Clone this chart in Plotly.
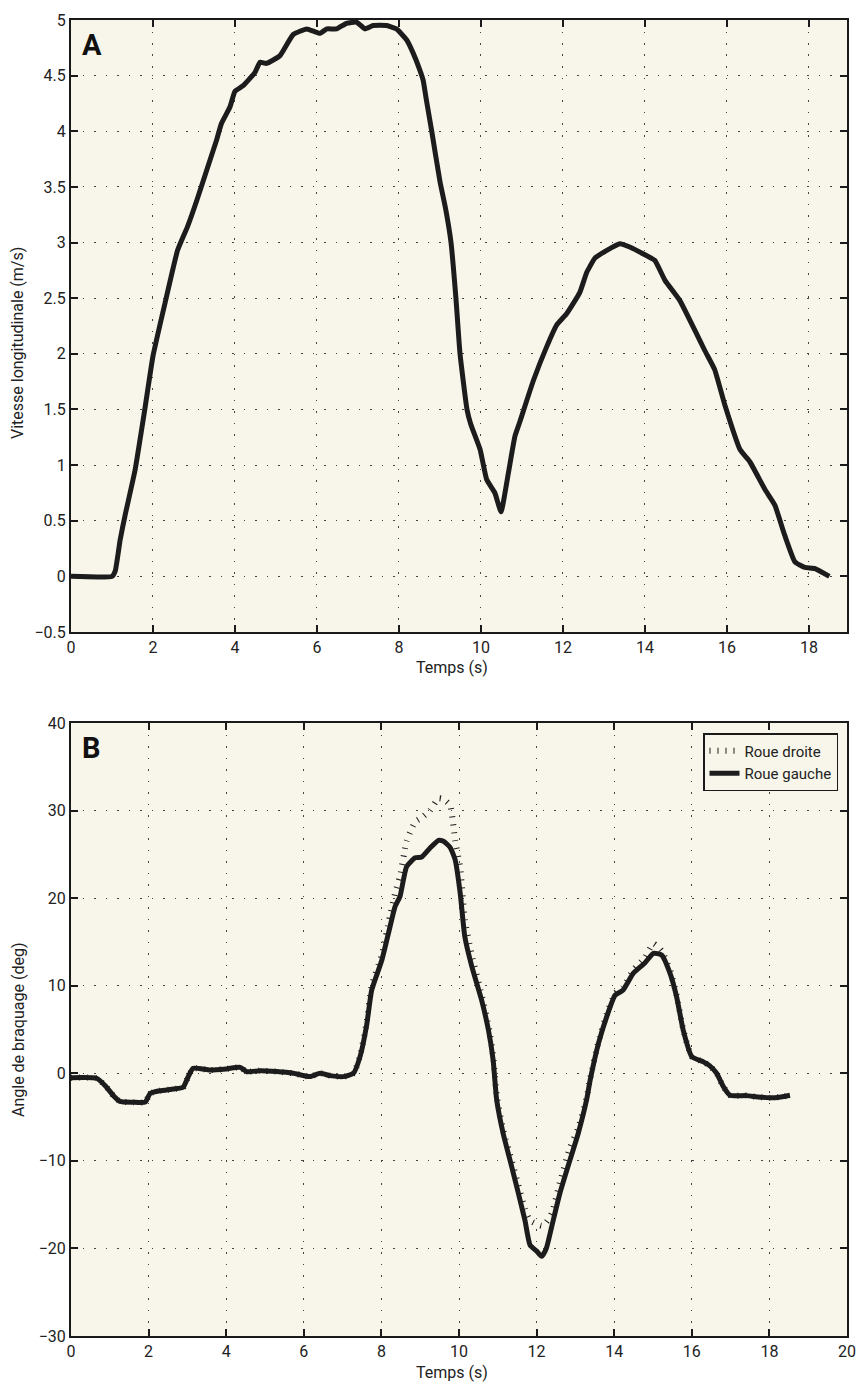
import plotly.graph_objects as go

# ---------------- Panel A data ----------------
t_a = [0, 1.0, 1.08, 1.2, 1.32, 1.56, 1.8, 2.0, 2.29, 2.6, 2.85, 3.07, 3.31, 3.55, 3.67, 3.88, 4.0,
       4.2, 4.49, 4.61, 4.77, 5.1, 5.42, 5.75, 6.07, 6.24, 6.48, 6.72, 6.97, 7.17, 7.37, 7.7,
       7.94, 8.19, 8.35, 8.51, 8.59, 8.67, 8.8, 9.0, 9.14, 9.27, 9.39, 9.49, 9.66, 9.75, 9.98, 10.14, 10.34,
       10.49, 10.67, 10.83, 10.95, 11.28, 11.6, 11.85, 12.09, 12.41, 12.58, 12.78, 13.07, 13.39,
       13.63, 14.0, 14.24, 14.49, 14.85, 15.22, 15.46, 15.7, 15.95, 16.32, 16.56, 16.93, 17.17,
       17.41, 17.66, 17.9, 18.15, 18.5]
v_a = [0, 0, 0.05, 0.33, 0.55, 0.95, 1.5, 1.98, 2.45, 2.93, 3.15, 3.38, 3.65, 3.92, 4.07, 4.22, 4.36,
       4.41, 4.53, 4.62, 4.61, 4.68, 4.87, 4.92, 4.88, 4.92, 4.92, 4.97, 4.98, 4.92, 4.95, 4.95,
       4.92, 4.82, 4.7, 4.55, 4.46, 4.28, 4.0, 3.55, 3.3, 3.0, 2.5, 2.0, 1.5, 1.37, 1.14, 0.87, 0.75,
       0.58, 0.93, 1.26, 1.39, 1.76, 2.06, 2.26, 2.36, 2.55, 2.73, 2.86, 2.93, 2.99,
       2.96, 2.89, 2.84, 2.66, 2.48, 2.21, 2.03, 1.86, 1.54, 1.14, 1.03, 0.78, 0.64,
       0.37, 0.13, 0.08, 0.07, 0.0]

# ---------------- Panel B data ----------------
t_b = [0, 0.66, 0.9, 1.1, 1.26, 1.6, 1.91, 2.04, 2.29, 2.64, 2.89, 3.02, 3.15, 3.58, 4.0, 4.36, 4.53,
       4.87, 5.3, 5.73, 6.16, 6.42, 6.68, 7.02, 7.28, 7.45, 7.62, 7.75, 8.01, 8.22, 8.35, 8.48,
       8.65, 8.87, 9.04, 9.25, 9.47, 9.6, 9.77, 9.9, 10.03, 10.15, 10.33, 10.58, 10.76, 10.88,
       10.97, 11.14, 11.36, 11.53, 11.7, 11.83, 12.0, 12.13, 12.25, 12.39, 12.6, 12.86, 13.07,
       13.29, 13.38, 13.6, 13.81, 14.02, 14.23, 14.49, 14.79, 15.01, 15.22, 15.44, 15.61, 15.78,
       16.0, 16.3, 16.45, 16.64, 16.81, 16.98, 17.41, 17.7, 18.01, 18.3, 18.53]
left_b = [-0.5, -0.57, -1.5, -2.6, -3.2, -3.3, -3.3, -2.3, -2.0, -1.8, -1.6, -0.4, 0.57, 0.38, 0.5,
          0.68, 0.18, 0.3, 0.2, 0.0, -0.38, 0.0, -0.27, -0.38, 0.0, 1.9, 5.5, 9.5, 12.9, 16.7, 19.0,
          20.2, 23.6, 24.6, 24.7, 25.7, 26.6, 26.5, 25.8, 24.4, 20.6, 15.6, 12.2, 8.4, 4.9, 1.5,
          -3.0, -6.9, -10.7, -13.7, -16.8, -19.6, -20.3, -20.9, -20.0, -17.5, -13.7, -9.9, -6.9,
          -3.0, -0.8, 3.5, 6.5, 8.9, 9.5, 11.4, 12.6, 13.7, 13.5, 11.4, 8.7, 4.9,
          1.9, 1.3, 0.9, 0.0, -1.5, -2.5, -2.55, -2.7, -2.8, -2.7, -2.5]
right_b = [-0.5, -0.57, -1.5, -2.6, -3.2, -3.3, -3.3, -2.3, -2.0, -1.8, -1.6, -0.4, 0.57, 0.38, 0.5,
           0.68, 0.18, 0.3, 0.2, 0.0, -0.38, 0.0, -0.27, -0.38, 0.0, 2.0, 5.8, 10.0, 13.5, 17.9, 20.5,
           22.5, 26.5, 28.7, 29.2, 30.0, 31.4, 31.3, 30.6, 26.6, 23.5, 17.5, 13.5, 9.0, 5.5, 2.0,
           -2.5, -6.5, -10.0, -12.8, -15.5, -16.8, -17.2, -17.4, -17.0, -16.0, -12.5, -8.5, -6.3,
           -2.8, -0.6, 3.7, 6.8, 9.1, 9.8, 11.8, 13.2, 14.8, 14.0, 11.8, 8.9, 5.0,
           1.9, 1.3, 0.9, 0.0, -1.5, -2.5, -2.55, -2.7, -2.8, -2.7, -2.5]

xticks_a = [0, 2, 4, 6, 8, 10, 12, 14, 16, 18]
yticks_a = [-0.5, 0, 0.5, 1, 1.5, 2, 2.5, 3, 3.5, 4, 4.5, 5]
ytext_a = ["\u22120.5", "0", "0.5", "1", "1.5", "2", "2.5", "3", "3.5", "4", "4.5", "5"]
xticks_b = [0, 2, 4, 6, 8, 10, 12, 14, 16, 18, 20]
yticks_b = [-30, -20, -10, 0, 10, 20, 30, 40]
ytext_b = ["\u221230", "\u221220", "\u221210", "0", "10", "20", "30", "40"]

W, H = 857, 1383
FONT = "Roboto, sans-serif"
LINE = "#1c1c1c"
BG = "#f8f6ea"
TXT = "#222222"

fig = go.Figure()
fig.add_trace(go.Scatter(x=t_a, y=v_a, mode="lines", showlegend=False,
                         line=dict(color=LINE, width=5, shape="spline", smoothing=0.4),
                         xaxis="x", yaxis="y"))
fig.add_trace(go.Scatter(x=t_b, y=right_b, mode="lines", name="Roue droite",
                         line=dict(color=LINE, width=6, dash="1px,7px", shape="spline", smoothing=0.5),
                         xaxis="x2", yaxis="y2"))
fig.add_trace(go.Scatter(x=t_b, y=left_b, mode="lines", name="Roue gauche",
                         line=dict(color=LINE, width=5, shape="spline", smoothing=0.5),
                         xaxis="x2", yaxis="y2"))

xdom = [71 / W, 847 / W]
ydom_a = [1 - 632 / H, 1 - 20 / H]
ydom_b = [1 - 1336 / H, 1 - 723 / H]

common = dict(showline=True, linecolor="#1a1a1a", linewidth=2, mirror="ticks",
              ticks="inside", ticklen=7, tickwidth=1.5, tickcolor="#1a1a1a",
              showgrid=True, gridcolor="#444444", gridwidth=1, griddash="1.5px,10px",
              zeroline=False, automargin=False,
              tickfont=dict(family=FONT, size=16, color=TXT))

fig.update_layout(
    width=W, height=H, margin=dict(l=0, r=0, t=0, b=0, autoexpand=False),
    paper_bgcolor="white", plot_bgcolor=BG,
    xaxis=dict(domain=xdom, anchor="y", range=[0, 18.93], tickvals=xticks_a, **common),
    yaxis=dict(domain=ydom_a, anchor="x", range=[-0.5, 5], tickvals=yticks_a, ticktext=ytext_a, **common),
    xaxis2=dict(domain=xdom, anchor="y2", range=[0, 20], tickvals=xticks_b, **common),
    yaxis2=dict(domain=ydom_b, anchor="x2", range=[-30, 40], tickvals=yticks_b, ticktext=ytext_b, **common),
    legend=dict(x=838 / W, y=1 - 733 / H, xanchor="right", yanchor="top",
                bgcolor=BG, bordercolor="#1a1a1a", borderwidth=1.5,
                font=dict(family=FONT, size=15, color=TXT),
                tracegroupgap=0, itemwidth=30),
    annotations=[
        dict(text="<b>A</b>", x=80 / W, y=1 - 45 / H, xref="paper", yref="paper",
             xanchor="left", yanchor="middle", showarrow=False,
             font=dict(family=FONT, size=29, color="#111111")),
        dict(text="<b>B</b>", x=80 / W, y=1 - 748 / H, xref="paper", yref="paper",
             xanchor="left", yanchor="middle", showarrow=False,
             font=dict(family=FONT, size=29, color="#111111")),
        dict(text="Vitesse longitudinale (m/s)", x=18 / W, y=1 - 343 / H, xref="paper", yref="paper",
             textangle=-90, showarrow=False, xanchor="center", yanchor="middle",
             font=dict(family=FONT, size=16, color=TXT)),
        dict(text="Angle de braquage (deg)", x=18 / W, y=1 - 1030 / H, xref="paper", yref="paper",
             textangle=-90, showarrow=False, xanchor="center", yanchor="middle",
             font=dict(family=FONT, size=16, color=TXT)),
        dict(text="Temps (s)", x=452 / W, y=1 - 668 / H, xref="paper", yref="paper",
             showarrow=False, xanchor="center", yanchor="middle",
             font=dict(family=FONT, size=16, color=TXT)),
        dict(text="Temps (s)", x=452 / W, y=1 - 1372 / H, xref="paper", yref="paper",
             showarrow=False, xanchor="center", yanchor="middle",
             font=dict(family=FONT, size=16, color=TXT)),
    ],
)

fig.write_html("out.html")
